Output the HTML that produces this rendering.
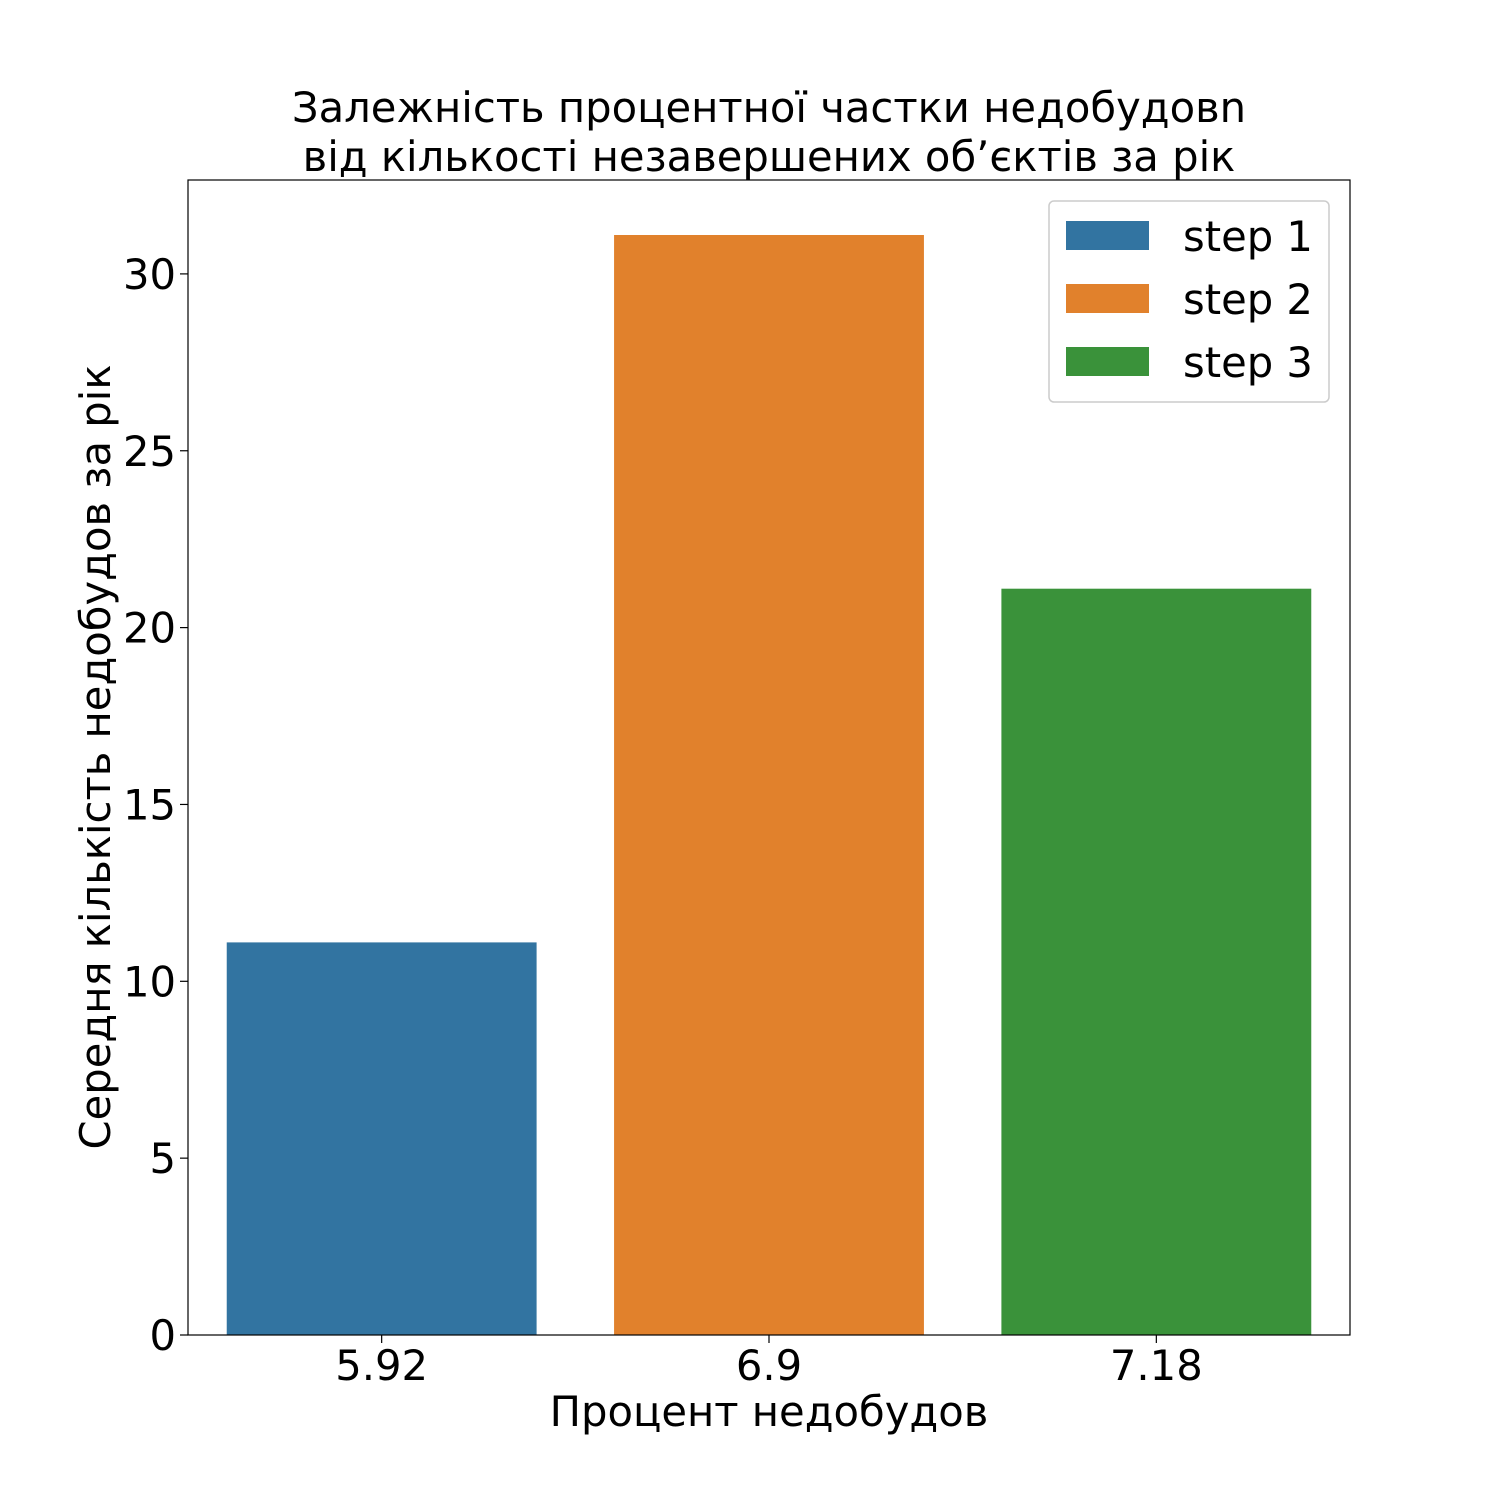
<!DOCTYPE html>
<html><head><meta charset="utf-8">
<style>
html,body{margin:0;padding:0;background:#fff;}
svg text{font-family:"DejaVu Sans","Liberation Sans",sans-serif;fill:#000;}
</style></head>
<body>
<svg id="chart" width="1500" height="1500" viewBox="0 0 1500 1500" xmlns="http://www.w3.org/2000/svg">
<rect width="1500" height="1500" fill="#fff"/>
<text x="769" y="122" font-size="41.7" text-anchor="middle">Залежність процентної частки недобудовn</text>
<text x="769" y="171" font-size="41.7" text-anchor="middle">від кількості незавершених об’єктів за рік</text>
<g id="bars"></g>
<g id="yticks"></g>
<g id="xticks"></g>
<rect x="188" y="180" width="1162" height="1155" fill="none" stroke="#000" stroke-width="1.2"/>
<text x="769" y="1426" font-size="41.7" text-anchor="middle">Процент недобудов</text>
<text transform="translate(110,757) rotate(-90)" font-size="41.7" text-anchor="middle">Середня кількість недобудов за рік</text>
<g id="legend">
<rect x="1049" y="201" width="280" height="201" rx="5" fill="#fff" stroke="#ccc" stroke-width="1.5"/>
</g>
</svg>
<script>
const categories = ["5.92", "6.9", "7.18"];
const values = [11.1, 31.1, 21.1];
const seriesNames = ["step 1", "step 2", "step 3"];
const colors = ["#3274a1", "#e1812c", "#3a923a"];
const yTicks = [0, 5, 10, 15, 20, 25, 30];

const NS = "http://www.w3.org/2000/svg";
const L = 188, R = 1350, T = 180, B = 1335;
const yMax = Math.max(...values) * 1.05;
const xMin = -0.5, xMax = categories.length - 0.5;
const xs = i => L + (i - xMin) / (xMax - xMin) * (R - L);
const ys = v => B - v / yMax * (B - T);
const band = (R - L) / (xMax - xMin);

function mk(tag, attrs, parent) {
  const e = document.createElementNS(NS, tag);
  for (const k in attrs) e.setAttribute(k, attrs[k]);
  parent.appendChild(e);
  return e;
}
const bars = document.getElementById('bars');
values.forEach((v, i) => {
  const w = band * 0.8;
  const r = mk('rect', {x: xs(i) - w / 2, y: ys(v), width: w, height: ys(0) - ys(v), fill: colors[i]}, bars);
  
  
});
const yg = document.getElementById('yticks');
yTicks.forEach(t => {
  const l = mk('line', {x1: L - 8, x2: L, y1: ys(t), y2: ys(t), stroke: '#000', 'stroke-width': 1.2}, yg);
  
  
  const tx = mk('text', {x: L - 12, y: ys(t) + 15, 'font-size': 41.7, 'text-anchor': 'end'}, yg);
  tx.textContent = t;
  
  
});
const xg = document.getElementById('xticks');
categories.forEach((c, i) => {
  const l = mk('line', {x1: xs(i), x2: xs(i), y1: B, y2: B + 8, stroke: '#000', 'stroke-width': 1.2}, xg);
  
  
  const tx = mk('text', {x: xs(i), y: B + 45, 'font-size': 41.7, 'text-anchor': 'middle'}, xg);
  tx.textContent = c;
  
  
});
const lg = document.getElementById('legend');
seriesNames.forEach((n, i) => {
  const y = 221 + i * 63;
  const r = mk('rect', {x: 1066, y: y, width: 83, height: 29, fill: colors[i]}, lg);
  
  
  const t = mk('text', {x: 1183, y: y + 30, 'font-size': 41.7}, lg);
  t.textContent = n;
  
  
});
</script>
</body></html>
